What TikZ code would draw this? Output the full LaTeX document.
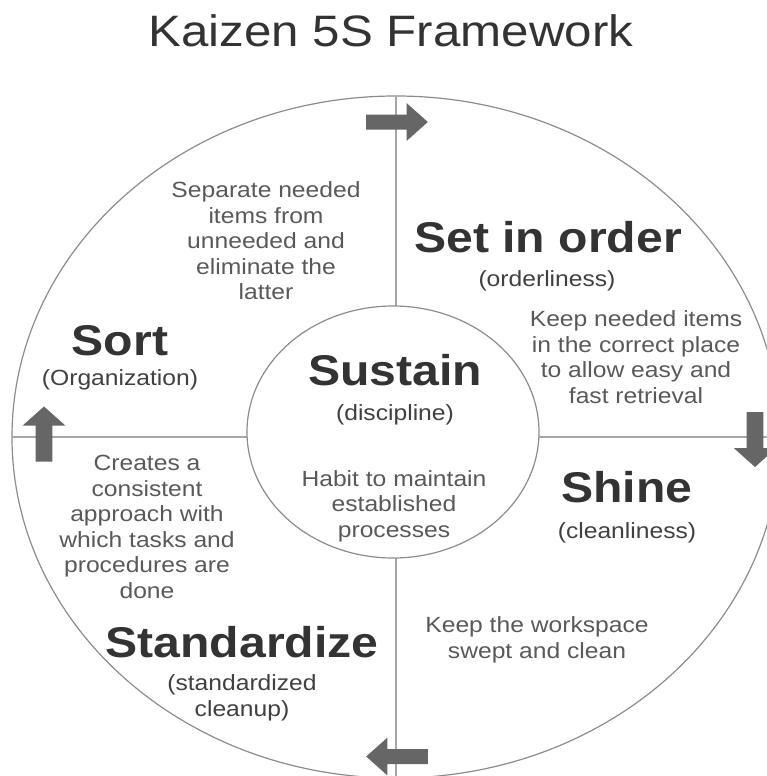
\documentclass[tikz,border=0pt]{standalone}
\usepackage{fontspec}
\setmainfont{Liberation Sans}[FakeStretch=1.12]
\usetikzlibrary{shapes.geometric}

\definecolor{ringgray}{HTML}{8C8C8C}
\definecolor{crossgray}{HTML}{A6A6A6}
\definecolor{arrowgray}{HTML}{666666}
\definecolor{headgray}{HTML}{333333}
\definecolor{subgray}{HTML}{404040}
\definecolor{textgray}{HTML}{595959}

\tikzset{
  heading/.style={font=\fontsize{43}{50}\selectfont\bfseries, text=headgray, inner sep=0pt, anchor=base},
  subhead/.style={font=\fontsize{22}{26}\selectfont, text=subgray, inner sep=0pt, anchor=base, align=center},
  desc/.style={font=\fontsize{22}{25.5}\selectfont, text=textgray, inner sep=0pt, align=center},
  ring/.style={ellipse, draw=ringgray, line width=1.2pt, inner sep=0pt, outer sep=0pt},
  blockarrow/.pic={
    \fill[arrowgray] (-27.5,-7.5) -- (8.5,-7.5) -- (8.5,-19) -- (27.5,0)
      -- (8.5,19) -- (8.5,7.5) -- (-27.5,7.5) -- cycle;
  }
}

\begin{document}
\begin{tikzpicture}[x=1pt, y=-1pt]
  \useasboundingbox (0,0) rectangle (766,776);

  \node[font=\fontsize{44}{50}\selectfont, text=headgray, inner sep=0pt, anchor=base] (title) at (391,47) {Kaizen 5S Framework};

  % outer ring and the cross
  \node[ring, minimum width=768, minimum height=682] (outer) at (396,437) {};
  \draw[crossgray, line width=2.5pt] (outer.north) -- (outer.south);
  \draw[crossgray, line width=2.5pt] (outer.west) -- (outer.east);
  \node[ring, fill=white, minimum width=292, minimum height=252] (hub) at (393,432) {};

  % sort
  \node[desc] (sortdesc) at (266,241) {Separate needed\\items from\\unneeded and\\eliminate the\\latter};
  \node[heading] (sort) at (120,355) {Sort};
  \node[subhead] (sortsub) at (120,385) {(Organization)};

  % set in order
  \node[heading] (order) at (548,252) {Set in order};
  \node[subhead] (ordersub) at (547,286) {(orderliness)};
  \node[desc] (orderdesc) at (636,357) {Keep needed items\\in the correct place\\to allow easy and\\fast retrieval};

  % shine
  \node[heading] (shine) at (627,502) {Shine};
  \node[subhead] (shinesub) at (627,538) {(cleanliness)};
  \node[desc] (shinedesc) at (537,640) {Keep the workspace\\swept and clean};

  % standardize
  \node[desc] (standdesc) at (147,527) {Creates a\\consistent\\approach with\\which tasks and\\procedures are\\done};
  \node[heading] (stand) at (242,657) {Standardize};
  \node[subhead, anchor=center] (standsub) at (242,698) {(standardized\\cleanup)};

  % sustain
  \node[heading] (sustain) at (395,385) {Sustain};
  \node[subhead] (sustainsub) at (395,420) {(discipline)};
  \node[desc] (sustaindesc) at (394,506) {Habit to maintain\\established\\processes};

  % arrows round the ring
  \pic[xscale=1.12] at (397,122) {blockarrow};
  \pic[xscale=1.12, rotate=-90] at (755,439.5) {blockarrow};
  \pic[xscale=1.12, rotate=180] at (397,756.5) {blockarrow};
  \pic[xscale=1.12, rotate=90] at (44,434) {blockarrow};
\end{tikzpicture}
\end{document}
